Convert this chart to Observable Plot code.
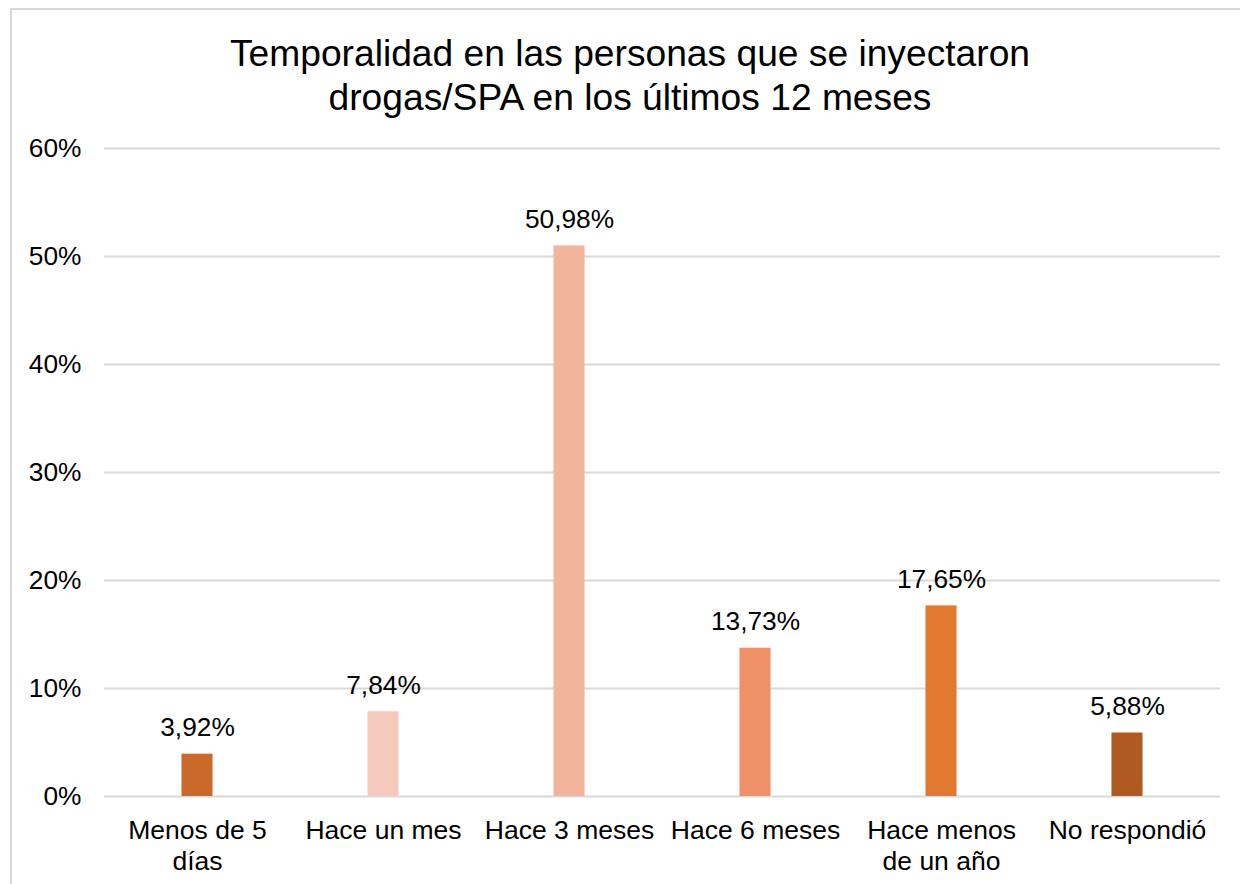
<!DOCTYPE html>
<html>
<head>
<meta charset="utf-8">
<script src="https://cdn.jsdelivr.net/npm/d3@7"></script>
<script src="https://cdn.jsdelivr.net/npm/@observablehq/plot@0.6"></script>
<style>
  html, body { margin: 0; padding: 0; background: #fff; }
  #wrap { position: relative; width: 1240px; height: 884px; overflow: hidden; font-family: "Liberation Sans", Arial, sans-serif; }
  #border { position: absolute; left: 10px; top: 8px; width: 1300px; height: 1000px; border: 2px solid #d9d9d9; box-sizing: border-box; }
  #title { position: absolute; left: 0; top: 31px; width: 1260px; text-align: center; font-size: 37.2px; line-height: 44px; color: #000; }
  #chart { position: absolute; left: 0; top: 120px; }
</style>
</head>
<body>
<div id="wrap">
  <div id="border"></div>
  <div id="title">Temporalidad en las personas que se inyectaron<br>drogas/SPA en los últimos 12 meses</div>
  <div id="chart"></div>
</div>
<script>
const categories = ["Menos de 5 días", "Hace un mes", "Hace 3 meses", "Hace 6 meses", "Hace menos de un año", "No respondió"];
const tickLabels = ["Menos de 5\ndías", "Hace un mes", "Hace 3 meses", "Hace 6 meses", "Hace menos\nde un año", "No respondió"];
const values = [3.92, 7.84, 50.98, 13.73, 17.65, 5.88];
const barColors = ["#C96A2B", "#F5CABD", "#F2B49B", "#EF9068", "#E07A30", "#AE5A21"];
const yTicks = [0, 10, 20, 30, 40, 50, 60];

const data = categories.map((c, i) => ({category: c, value: values[i]}));
const fmt = v => v.toFixed(2).replace(".", ",") + "%";

const chart = Plot.plot({
  width: 1240,
  height: 764,
  marginTop: 28,
  marginBottom: 88,
  marginLeft: 104,
  marginRight: 20,
  style: {background: "transparent", fontFamily: "Liberation Sans, Arial, sans-serif", fontSize: "26px", color: "#000"},
  x: {domain: categories, paddingInner: 0.833, paddingOuter: 0.4165, round: false, label: null},
  y: {domain: [0, 60], label: null},
  color: {domain: categories, range: barColors},
  marks: [
    Plot.gridY(yTicks, {stroke: "#d9d9d9", strokeOpacity: 1, strokeWidth: 2}),
    Plot.barY(data, {x: "category", y: "value", fill: "category"}),
    Plot.text(data, {x: "category", y: "value", text: d => fmt(d.value), lineAnchor: "bottom", dy: -18, fill: "#000", fontSize: 26.3}),
    Plot.axisY({ticks: yTicks, tickFormat: d => d + "%", tickSize: 0, tickPadding: 23, fontSize: 26.3, fill: "#000"}),
    Plot.axisX({tickSize: 0, tickPadding: 20, tickFormat: (d) => tickLabels[categories.indexOf(d)], lineHeight: 1.19, fontSize: 26.5, fill: "#000"})
  ]
});
document.getElementById("chart").appendChild(chart);
</script>
</body>
</html>
